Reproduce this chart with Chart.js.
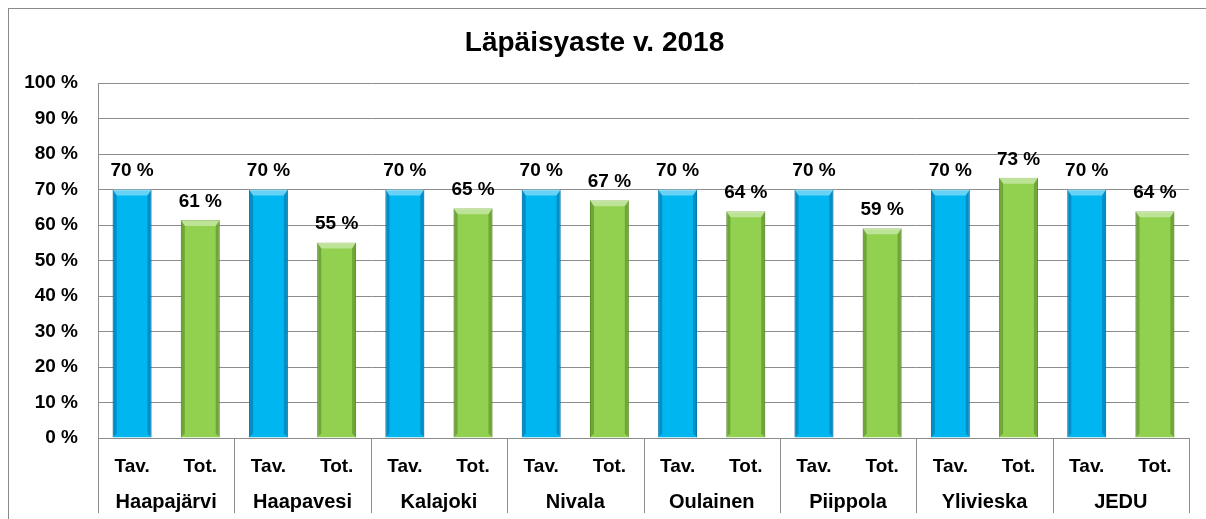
<!DOCTYPE html>
<html><head><meta charset="utf-8">
<script src="https://cdn.jsdelivr.net/npm/chart.js@4.4.1/dist/chart.umd.min.js"></script>
<style>
html,body{margin:0;padding:0;background:#fff;}
#wrap{position:relative;width:1206px;height:519px;overflow:hidden;}
#frame{position:absolute;left:8px;top:8px;right:-5px;bottom:-5px;border-left:1px solid #8a8a8a;border-top:1px solid #8a8a8a;}
canvas{position:absolute;left:0;top:0;}
</style></head><body>
<div id="wrap"><div id="frame"></div><canvas id="c" width="1206" height="519"></canvas></div>
<script>
const groups = ['Haapajärvi','Haapavesi','Kalajoki','Nivala','Oulainen','Piippola','Ylivieska','JEDU'];
const subLabels = ['Tav.','Tot.'];
const tavValues = [70,70,70,70,70,70,70,70];
const totValues = [61.4,55.1,64.7,67.0,63.9,59.1,73.3,63.9];
const yTicks = [0,10,20,30,40,50,60,70,80,90,100];
const titleText = 'Läpäisyaste v. 2018';

const FONT = '"Liberation Sans", Arial, sans-serif';
const GRID = '#8c8c8c';
const categories = groups.flatMap(() => subLabels);
const tavData = groups.flatMap((g,i) => [tavValues[i], null]);
const totData = groups.flatMap((g,i) => [null, totValues[i]]);

const bevelPlugin = {
  id: 'bevel',
  afterDatasetsDraw(chart){
    const ctx = chart.ctx;
    const styles = [{dark:'rgba(0,70,120,0.35)', light:'rgba(255,255,255,0.4)'},
                    {dark:'rgba(50,90,10,0.35)', light:'rgba(255,255,255,0.4)'}];
    chart.data.datasets.forEach((ds, di) => {
      chart.getDatasetMeta(di).data.forEach((el, i) => {
        if (ds.data[i] == null) return;
        const p = el.getProps(['x','y','width','base'], true);
        const l = p.x - p.width/2, r = p.x + p.width/2, t = p.y, b = p.base;
        const e = 4;
        ctx.save();
        ctx.fillStyle = styles[di].light;
        ctx.beginPath(); ctx.moveTo(l,t); ctx.lineTo(r,t); ctx.lineTo(r-e,t+e+2); ctx.lineTo(l+e,t+e+2); ctx.closePath(); ctx.fill();
        ctx.fillStyle = styles[di].dark;
        ctx.beginPath(); ctx.moveTo(l,t); ctx.lineTo(l+e,t+e+2); ctx.lineTo(l+e,b-e); ctx.lineTo(l,b); ctx.closePath(); ctx.fill();
        ctx.beginPath(); ctx.moveTo(r,t); ctx.lineTo(r-e,t+e+2); ctx.lineTo(r-e,b-e); ctx.lineTo(r,b); ctx.closePath(); ctx.fill();
        ctx.restore();
      });
    });
  }
};

const labelPlugin = {
  id: 'valueLabels',
  afterDatasetsDraw(chart){
    const ctx = chart.ctx;
    ctx.save();
    ctx.font = 'bold 19px ' + FONT;
    ctx.fillStyle = '#000';
    ctx.textAlign = 'center';
    ctx.textBaseline = 'middle';
    chart.data.datasets.forEach((ds, di) => {
      chart.getDatasetMeta(di).data.forEach((el, i) => {
        const v = ds.data[i];
        if (v == null) return;
        ctx.fillText(Math.round(v) + ' %', el.x, el.y - 18.5);
      });
    });
    ctx.restore();
  }
};

const separatorPlugin = {
  id: 'groupSeparators',
  afterDraw(chart){
    const x2 = chart.scales.x2;
    const ctx = chart.ctx;
    const n = groups.length;
    const p0 = x2.getPixelForTick(0), p1 = x2.getPixelForTick(1);
    const w = p1 - p0;
    ctx.save();
    ctx.strokeStyle = GRID;
    ctx.lineWidth = 1;
    for (let i = 0; i <= n; i++){
      const x = Math.round(p0 - w/2 + i*w) + 0.5;
      ctx.beginPath();
      ctx.moveTo(x, chart.chartArea.bottom);
      ctx.lineTo(x, 513);
      ctx.stroke();
    }
    ctx.restore();
  }
};

new Chart(document.getElementById('c'), {
  type: 'bar',
  data: {
    labels: categories,
    datasets: [
      {label: 'Tav.', data: tavData, backgroundColor: '#00B6F0', borderColor: '#0096cc', borderWidth: 1, grouped: false, barPercentage: 0.57, categoryPercentage: 1},
      {label: 'Tot.', data: totData, backgroundColor: '#92D050', borderColor: '#72ad36', borderWidth: 1, grouped: false, barPercentage: 0.57, categoryPercentage: 1}
    ]
  },
  options: {
    responsive: false,
    animation: false,
    devicePixelRatio: 1,
    layout: {padding: {left: 0, right: 17, top: 0, bottom: 0}},
    plugins: {
      legend: {display: false},
      tooltip: {enabled: false},
      title: {display: true, text: titleText, color: '#000', font: {family: FONT, size: 28, weight: 'bold'}, padding: {top: 26, bottom: 23.4}}
    },
    scales: {
      y: {
        min: 0, max: 100,
        afterBuildTicks: s => { s.ticks = yTicks.map(v => ({value: v})); },
        ticks: {callback: v => v + ' %', color: '#000', font: {family: FONT, size: 19, weight: 'bold'}, padding: 20},
        grid: {color: GRID, lineWidth: 1, drawTicks: false},
        border: {display: true, color: GRID},
        afterFit: s => { s.width = 98; }
      },
      x: {
        grid: {display: false, drawTicks: false},
        border: {display: true, color: GRID},
        ticks: {color: '#000', font: {family: FONT, size: 19, weight: 'bold'}, padding: 17, maxRotation: 0, autoSkip: false},
        afterFit: s => { s.height = 45; }
      },
      x2: {
        type: 'category',
        labels: groups,
        position: 'bottom',
        offset: true,
        grid: {display: false, drawTicks: false},
        border: {display: false},
        ticks: {color: '#000', font: {family: FONT, size: 20, weight: 'bold'}, padding: 7, maxRotation: 0, autoSkip: false},
        afterFit: s => { s.height = 36; }
      }
    }
  },
  plugins: [bevelPlugin, labelPlugin, separatorPlugin]
});
</script>
</body></html>
